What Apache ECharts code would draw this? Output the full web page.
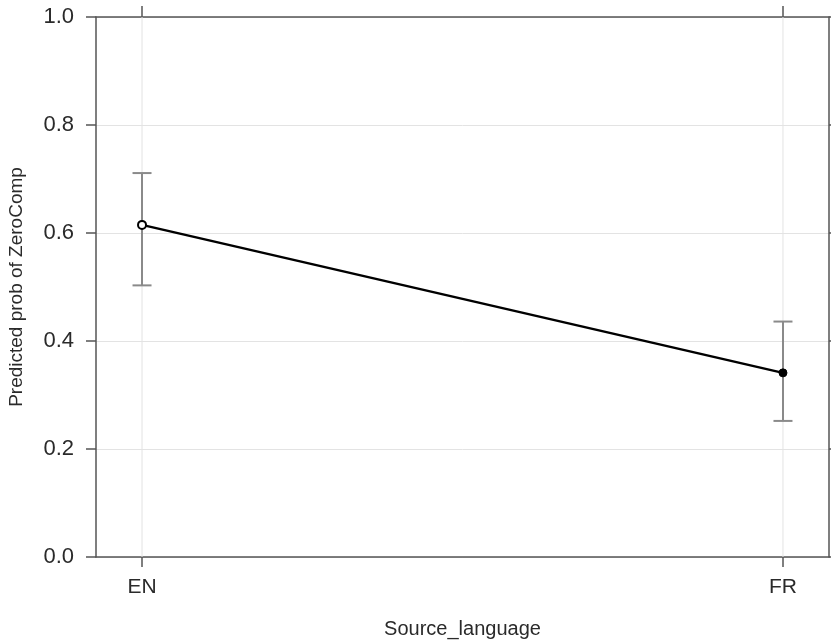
<!DOCTYPE html>
<html>
<head>
<meta charset="utf-8">
<script src="https://cdn.jsdelivr.net/npm/echarts@6/dist/echarts.min.js"></script>
<style>html,body{margin:0;padding:0;background:#fff}#c{width:831px;height:643px}</style>
</head>
<body>
<div id="c"></div>
<script>
const categories = ['EN', 'FR'];
const predicted = [0.615, 0.341];
const lower = [0.503, 0.252];
const upper = [0.711, 0.436];

const catIdx = categories.map((_, i) => i);
const font = 'Liberation Sans, Arial, sans-serif';
const axisColor = '#555';
const gridColor = '#e3e3e3';
const textColor = '#2a2a2a';

const chart = echarts.init(document.getElementById('c'), null, {renderer: 'canvas'});
chart.setOption({
  animation: false,
  backgroundColor: '#fff',
  grid: {left: 96, right: 2, top: 17, bottom: 86, containLabel: false, outerBoundsMode: 'none'},
  xAxis: [{
    type: 'value', min: -0.0718, max: 1.0718, position: 'bottom',
    name: 'Source_language', nameLocation: 'middle', nameGap: 62,
    nameTextStyle: {fontFamily: font, fontSize: 20, color: textColor},
    axisLine: {show: true, onZero: false, lineStyle: {color: axisColor, width: 1.5}},
    axisTick: {show: true, customValues: catIdx, length: 10, inside: false, lineStyle: {color: axisColor, width: 1.5}},
    axisLabel: {show: true, customValues: catIdx, margin: 20, fontFamily: font, fontSize: 21, color: textColor,
      formatter: v => categories[Math.round(v)]},
    splitLine: {show: false}
  }, {
    type: 'value', min: -0.0718, max: 1.0718, position: 'top',
    axisLine: {show: true, onZero: false, lineStyle: {color: axisColor, width: 1.5}},
    axisTick: {show: true, customValues: catIdx, length: 11, inside: false, lineStyle: {color: axisColor, width: 1.5}},
    axisLabel: {show: false},
    splitLine: {show: false}
  }],
  yAxis: [{
    type: 'value', min: 0, max: 1, interval: 0.2, position: 'left',
    name: 'Predicted prob of ZeroComp', nameLocation: 'middle', nameGap: 70,
    nameTextStyle: {fontFamily: font, fontSize: 19, color: textColor},
    axisLine: {show: true, onZero: false, lineStyle: {color: axisColor, width: 1.5}},
    axisTick: {show: true, length: 10, inside: false, lineStyle: {color: axisColor, width: 1.5}},
    axisLabel: {margin: 22, fontFamily: font, fontSize: 22, color: textColor, formatter: v => v.toFixed(1)},
    splitLine: {show: true, lineStyle: {color: gridColor, width: 1}}
  }, {
    type: 'value', min: 0, max: 1, interval: 0.2, position: 'right',
    axisLine: {show: true, onZero: false, lineStyle: {color: axisColor, width: 1.5}},
    axisTick: {show: true, length: 10, inside: false, lineStyle: {color: axisColor, width: 1.5}},
    axisLabel: {show: false},
    splitLine: {show: false}
  }],
  series: [{
    type: 'custom',
    xAxisIndex: 0, yAxisIndex: 0,
    z: 2,
    data: catIdx.map(i => [i, lower[i], upper[i]]),
    renderItem: function (params, api) {
      const x = api.value(0);
      const lo = api.coord([x, api.value(1)]);
      const hi = api.coord([x, api.value(2)]);
      const top = api.coord([x, 1]);
      const bot = api.coord([x, 0]);
      const w = 9.5;
      return {type: 'group', children: [
        {type: 'line', shape: {x1: top[0], y1: top[1], x2: bot[0], y2: bot[1]}, style: {stroke: gridColor, lineWidth: 1}},
        {type: 'line', shape: {x1: lo[0], y1: lo[1], x2: hi[0], y2: hi[1]}, style: {stroke: '#8a8a8a', lineWidth: 2}},
        {type: 'line', shape: {x1: hi[0] - w, y1: hi[1], x2: hi[0] + w, y2: hi[1]}, style: {stroke: '#8a8a8a', lineWidth: 2}},
        {type: 'line', shape: {x1: lo[0] - w, y1: lo[1], x2: lo[0] + w, y2: lo[1]}, style: {stroke: '#8a8a8a', lineWidth: 2}}
      ]};
    }
  }, {
    type: 'line',
    xAxisIndex: 0, yAxisIndex: 0,
    z: 3,
    symbol: 'circle', symbolSize: 8,
    lineStyle: {color: '#000', width: 2.5},
    data: catIdx.map(i => ({
      value: [i, predicted[i]],
      itemStyle: i === 0 ? {color: '#fff', borderColor: '#000', borderWidth: 2} : {color: '#000', borderColor: '#000', borderWidth: 1}
    }))
  }]
});
</script>
</body>
</html>
